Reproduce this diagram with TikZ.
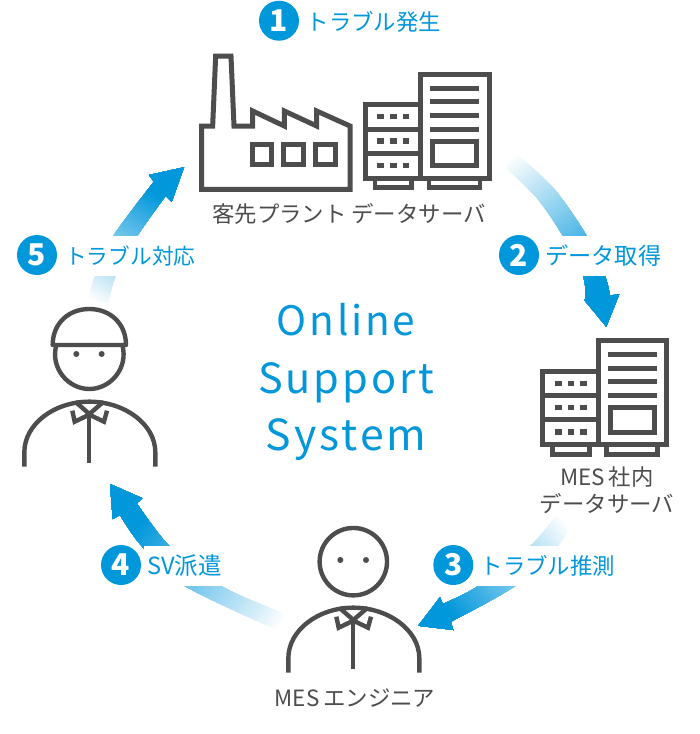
\documentclass[tikz,border=0pt]{standalone}
\usepackage{fontspec}
\setmainfont{Noto Sans CJK JP}
\newfontfamily\wideLatin[LetterSpace=7]{Noto Sans CJK JP}
\definecolor{bl}{HTML}{0097DB}
\definecolor{gy}{HTML}{4D4D4D}
\tikzset{
  stepnum/.style={circle,fill=bl,text=white,minimum size=40pt,inner sep=0pt,font=\fontsize{30}{30}\selectfont\bfseries},
  steplab/.style={anchor=west,fill=white,text=bl,inner ysep=0pt,inner xsep=3pt,minimum height=40pt,font=\fontsize{22.4}{26}\selectfont},
  caption/.style={text=gy,inner sep=0pt,align=center,font=\fontsize{22.4}{27}\selectfont},
  big/.style={text=bl,inner sep=0pt,anchor=base,font=\fontsize{41.5}{46}\selectfont\wideLatin},
  icon/.style={draw=gy,line width=5pt,miter limit=10},
  thin icon/.style={draw=gy,line width=4.4pt},
}
% #1 outline, #2 tail, #3 page angle, #4 length of the fade
\newcommand{\gradarrow}[4]{%
  \begin{scope}
    \clip #1;
    \begin{scope}[shift={(#2)},rotate=#3]
      \foreach \k in {1,...,60} {
        \pgfmathsetmacro{\tt}{(\k-1)/60*#4}
        \pgfmathsetmacro{\pp}{\k/60*100}
        \fill[bl!\pp!white] (\tt,-200) rectangle (#4+300,200);
      }
    \end{scope}
  \end{scope}}
\newcommand{\serverbox}{%
  \draw[icon] (420.7,74) rectangle (489,178.3);
  \draw[icon] (420.7,104.7) -- (365.3,104.7) -- (365.3,178.3) -- (420.7,178.3);
  \draw[icon] (365.3,129) -- (420.7,129) (365.3,153.3) -- (420.7,153.3);
  \draw[icon,line width=4.5pt] (375,178.3) -- (375,187.7) -- (411.7,187.7) -- (411.7,178.3);
  \draw[icon,line width=4.5pt] (429,178.3) -- (429,187.7) -- (480,187.7) -- (480,178.3);
  \draw[icon] (430,88) -- (479,88) (430,101.7) -- (479,101.7) (430,115.3) -- (479,115.3) (430,129) -- (479,129);
  \draw[icon] (432.7,141) rectangle (476.7,165.7);
  \foreach \yy in {116.7,141,165.3}
    \foreach \xx in {380.7,393.3,406}
      \fill[gy] (\xx-3.3,\yy-2.6) rectangle (\xx+3.3,\yy+2.6);
}
% body given in 3x units: centre x=280, top y=293
\newcommand{\personbody}{%
  \draw[thin icon] (85,488) -- (85,445) .. controls (85,360) and (175,293) .. (280,293)
     .. controls (385,293) and (478,360) .. (478,445) -- (478,488);
  \draw[thin icon,line join=miter] (238,293) -- (280,330) -- (323,293);
  \draw[thin icon,line join=miter] (229,320) -- (236,353) -- (280,332) -- (324,353) -- (333,320);
  \draw[thin icon] (279,330) -- (279,478);
}
\begin{document}
\begin{tikzpicture}[x=1pt,y=-1pt]
\useasboundingbox (0,0) rectangle (700,734);
\fill[white] (0,0) rectangle (700,734);

% arrows
\gradarrow{(184,167.3) -- (171.7,201.7) -- (165.7,195.7) -- plot[smooth] coordinates {(165.7,195.7) (137.3,236) (115.7,276) (108,303)} -- (88.3,300) -- plot[smooth] coordinates {(88.3,300) (95,276) (113.3,236) (154,181.7)} -- (149,175) -- cycle}{98,303}{60}{125}
\gradarrow{(606.3,326.7) -- (584.3,300) -- (585.7,299) -- plot[smooth] coordinates {(585.7,299) (583,276) (563,236) (537,198) (505,167)} -- (516,153) -- plot[smooth] coordinates {(516,153) (555,190) (586.7,236) (605,276) (610,295.7)} -- (619.3,294) -- cycle}{510,160}{-56}{150}
\gradarrow{(418.3,625.7) -- (440,597.3) -- (442.7,604) -- plot[smooth] coordinates {(442.7,604) (478.3,586) (530.7,545.7) (555,516.7)} -- (571.7,525) -- plot[smooth] coordinates {(571.7,525) (557.7,545.7) (515,586) (450.7,621.7)} -- (453.3,630) -- cycle}{563,520}{217.3}{148}
\gradarrow{(110,484) -- (142.3,498.3) -- (136.7,503.3) -- plot[smooth] coordinates {(136.7,503.3) (169.3,546) (221,586) (283.3,613.3)} -- (281.7,632) -- plot[smooth] coordinates {(281.7,632) (185,586) (141.7,546) (120,515)} -- (112.7,519) -- cycle}{282,622}{144.3}{175}

% step labels
\node[stepnum] (n1) at (279,20.7) {1};
\node[steplab] (t1) at (303.5,22) {トラブル発生};
\node[steplab,font=\fontsize{23.2}{26}\selectfont] (t2) at (542,256) {データ取得};
\node[stepnum] (n2) at (519,255) {2};
\node[steplab] (t3) at (477.5,566) {トラブル推測};
\node[stepnum] (n3) at (453.3,565) {3};
\node[steplab,font=\fontsize{23.6}{26}\selectfont] (t4) at (144,566) {SV派遣};
\node[stepnum] (n4) at (121,565) {4};
\node[steplab,font=\fontsize{21.7}{26}\selectfont] (t5) at (62,256) {トラブル対応};
\node[stepnum] (n5) at (37,255) {5};

% factory
\begin{scope}[shift={(190,0)},x=0.33333pt,y=-0.33333pt]
  \draw[icon,line join=miter] (35,378) -- (68,378) -- (77,168) -- (123,168) -- (132,378) -- (188,378) -- (188,333)
    -- (283,378) -- (283,333) -- (380,378) -- (380,333) -- (480,378) -- (480,568) -- (35,568) -- cycle;
  \draw[icon] (187,433) rectangle (245,494);
  \draw[icon] (281,433) rectangle (340,494);
  \draw[icon] (375,433) rectangle (437,494);
\end{scope}
% servers
\serverbox
\begin{scope}[shift={(177.6,266.6)}]\serverbox\end{scope}

% MES engineer
\begin{scope}[shift={(260,510)},x=0.33333pt,y=-0.33333pt]
  \draw[thin icon] (280,155) circle[radius=33.7pt];
  \fill[gy] (241,150) circle[radius=3pt] (318,150) circle[radius=3pt];
  \personbody
\end{scope}
% field engineer
\begin{scope}[shift={(-4,304)},x=0.33333pt,y=-0.33333pt]
  \personbody
\end{scope}
\begin{scope}[shift={(0,160)},x=0.33333pt,y=-0.33333pt]
  \draw[thin icon] (169,555) .. controls (150,625) and (205,687) .. (268,687) .. controls (331,687) and (386,625) .. (367,555);
  \draw[thin icon,line join=round] (158,555) -- (378,555) .. controls (378,490) and (330,447) .. (268,447) .. controls (206,447) and (158,490) .. (158,555) -- cycle;
  \fill[gy] (229,582) circle[radius=3pt] (305,582) circle[radius=3pt];
\end{scope}

% captions
\node[caption] (c1) at (349,214) {客先プラント データサーバ};
\node[caption] (c2) at (607,490) {MES\hspace{4pt}社内\\データサーバ};
\node[caption] (c3) at (355,698) {MES\hspace{4pt}エンジニア};
\node[big,font=\fontsize{40.5}{46}\selectfont\wideLatin] (b1) at (346,335) {Online};
\node[big] (b2) at (346,393) {Support};
\node[big,font=\fontsize{42.8}{46}\selectfont\wideLatin] (b3) at (346,450) {System};
\end{tikzpicture}
\end{document}
